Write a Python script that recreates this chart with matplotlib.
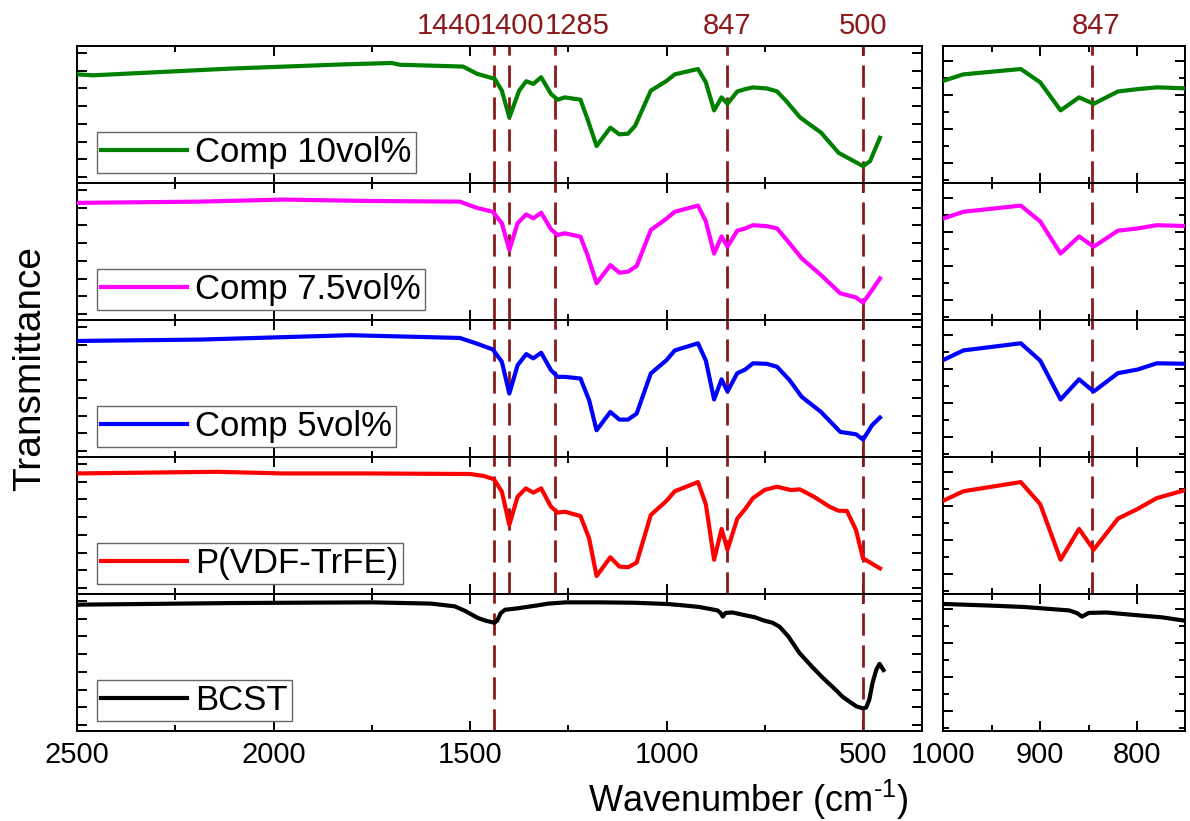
import matplotlib.pyplot as plt
import numpy as np
from matplotlib.ticker import FixedLocator

plt.rcParams['font.family'] = ['Liberation Sans', 'DejaVu Sans']
plt.rcParams['mathtext.fontset'] = 'custom'
plt.rcParams['mathtext.rm'] = 'Liberation Sans'

# FTIR spectra (wavenumber in cm-1, transmittance in arbitrary units, each panel 0..1)
wn_comp10 = [2500, 2460, 2110, 1820, 1700, 1678, 1518, 1482, 1437, 1419, 1400, 1375, 1357, 1339,
             1319, 1294, 1277, 1259, 1219, 1201, 1178, 1143, 1120, 1098, 1080, 1040, 1000, 979,
             920, 900, 879, 860, 845, 820, 800, 780, 745, 719, 696, 660, 607, 562, 500, 482, 457]
t_comp10 = [0.793, 0.786, 0.835, 0.866, 0.876, 0.863, 0.850, 0.797, 0.760, 0.674, 0.478, 0.674,
            0.743, 0.723, 0.772, 0.650, 0.608, 0.625, 0.608, 0.466, 0.270, 0.404, 0.355, 0.360,
            0.417, 0.674, 0.745, 0.793, 0.832, 0.735, 0.530, 0.625, 0.578, 0.668, 0.685, 0.698,
            0.690, 0.669, 0.600, 0.478, 0.368, 0.220, 0.123, 0.160, 0.330]

wn_comp75 = [2500, 2187, 1976, 1763, 1526, 1482, 1442, 1419, 1400, 1379, 1357, 1339, 1319, 1294,
             1277, 1259, 1219, 1201, 1178, 1143, 1120, 1098, 1076, 1040, 1000, 979, 920, 900,
             879, 860, 845, 820, 800, 780, 745, 719, 687, 656, 607, 558, 518, 500, 477, 457]
t_comp75 = [0.855, 0.864, 0.879, 0.869, 0.864, 0.818, 0.790, 0.706, 0.511, 0.706, 0.771, 0.742,
            0.783, 0.662, 0.620, 0.633, 0.608, 0.474, 0.268, 0.401, 0.345, 0.353, 0.394, 0.657,
            0.740, 0.790, 0.835, 0.720, 0.485, 0.610, 0.535, 0.652, 0.668, 0.692, 0.685, 0.669,
            0.560, 0.450, 0.328, 0.195, 0.165, 0.127, 0.219, 0.304]

wn_comp5 = [2500, 2187, 1805, 1526, 1482, 1442, 1419, 1400, 1379, 1357, 1339, 1319, 1294, 1277,
            1259, 1219, 1197, 1178, 1143, 1120, 1098, 1076, 1040, 1000, 979, 920, 900, 879, 860,
            845, 820, 800, 780, 745, 719, 687, 656, 607, 558, 518, 500, 477, 457]
t_comp5 = [0.847, 0.857, 0.889, 0.869, 0.827, 0.785, 0.695, 0.463, 0.670, 0.751, 0.720, 0.761,
           0.634, 0.585, 0.585, 0.573, 0.415, 0.195, 0.329, 0.273, 0.273, 0.317, 0.610, 0.707,
           0.778, 0.830, 0.704, 0.420, 0.567, 0.478, 0.612, 0.638, 0.684, 0.680, 0.659, 0.561,
           0.439, 0.329, 0.183, 0.166, 0.127, 0.232, 0.288]

wn_pvdf = [2500, 2145, 1976, 1763, 1500, 1464, 1439, 1419, 1400, 1379, 1358, 1339, 1319, 1294,
           1277, 1259, 1219, 1197, 1178, 1143, 1120, 1098, 1076, 1040, 1000, 979, 920, 900, 879,
           860, 845, 820, 800, 780, 750, 719, 684, 661, 625, 585, 563, 541, 518, 500, 457]
t_pvdf = [0.880, 0.892, 0.880, 0.880, 0.876, 0.861, 0.837, 0.747, 0.504, 0.710, 0.771, 0.740,
          0.771, 0.637, 0.594, 0.601, 0.569, 0.406, 0.131, 0.268, 0.200, 0.195, 0.229, 0.577,
          0.680, 0.750, 0.817, 0.656, 0.250, 0.475, 0.323, 0.550, 0.620, 0.700, 0.760, 0.783,
          0.759, 0.764, 0.710, 0.637, 0.608, 0.606, 0.467, 0.260, 0.187]

wn_bcst = [2500, 2300, 2100, 1900, 1750, 1600, 1539, 1515, 1499, 1480, 1460, 1445, 1438, 1431,
           1422, 1411, 1380, 1333, 1300, 1257, 1170, 1080, 998, 950, 916, 870, 862, 857, 850,
           832, 800, 775, 751, 730, 712, 690, 662, 630, 603, 575, 552, 530, 517, 500, 492, 484,
           476, 466, 458, 448]
t_bcst = [0.922, 0.928, 0.934, 0.937, 0.939, 0.930, 0.910, 0.880, 0.855, 0.825, 0.805, 0.795,
          0.790, 0.805, 0.860, 0.885, 0.895, 0.915, 0.930, 0.939, 0.939, 0.936, 0.927, 0.915,
          0.905, 0.880, 0.860, 0.835, 0.862, 0.865, 0.845, 0.830, 0.805, 0.790, 0.760, 0.690,
          0.570, 0.470, 0.390, 0.315, 0.250, 0.205, 0.180, 0.165, 0.172, 0.230, 0.350, 0.450,
          0.490, 0.445]

labels = ['Comp 10vol%', 'Comp 7.5vol%', 'Comp 5vol%', 'P(VDF-TrFE)', 'BCST']
colors = ['#008000', '#ff00ff', '#0000ff', '#ff0000', '#000000']
spectra = [(wn_comp10, t_comp10), (wn_comp75, t_comp75), (wn_comp5, t_comp5),
           (wn_pvdf, t_pvdf), (wn_bcst, t_bcst)]

# band positions marked with dashed lines
bands = [1440, 1400, 1285, 847, 500]
bands_bcst = [1440, 500]
band_color = '#8b1a1a'

W, H = 1190, 821
fig = plt.figure(figsize=(W / 100, H / 100), dpi=100)


def add_panel(x0, x1, top, bottom):
    return fig.add_axes([x0 / W, 1 - bottom / H, (x1 - x0) / W, (bottom - top) / H])


def style_axes(ax, major_x, minor_x, major_y, minor_y, bottom_row):
    ax.set_ylim(0, 1)
    ax.xaxis.set_major_locator(FixedLocator(major_x))
    ax.xaxis.set_minor_locator(FixedLocator(minor_x))
    ax.yaxis.set_major_locator(FixedLocator(major_y))
    ax.yaxis.set_minor_locator(FixedLocator(minor_y))
    ax.tick_params(which='both', direction='in', top=True, right=True, width=1.4,
                   labelleft=False, labelbottom=bottom_row, labelsize=21, pad=7)
    ax.tick_params(which='major', length=7)
    ax.tick_params(which='minor', length=4.5)
    for s in ax.spines.values():
        s.set_linewidth(1.4)


yticks_left = [0.044 + 0.1292 * k for k in range(8)]
yticks_right_major = [0.146 + 0.248 * k for k in range(4)]
yticks_right_minor = [0.022 + 0.248 * k for k in range(4)]

row_h = 137
axes_left = []
axes_right = []
for i, (label, color, (wn, t)) in enumerate(zip(labels, colors, spectra)):
    top = 46 + i * row_h
    last = i == len(labels) - 1
    axL = add_panel(77, 922, top, top + row_h)
    axR = add_panel(943, 1185, top, top + row_h)

    axL.plot(wn, t, color=color, lw=3, label=label, zorder=3)
    axR.plot(wn, t, color=color, lw=3, zorder=3)
    axL.set_xlim(2500, 350)
    axR.set_xlim(1000, 751)

    for b in (bands_bcst if last else bands):
        axL.axvline(b, color=band_color, lw=2, ls=(0, (8, 3.5)), zorder=2)
    if not last:
        axR.axvline(847, color=band_color, lw=2, ls=(0, (8, 3.5)), zorder=2)

    style_axes(axL, [2500, 2000, 1500, 1000, 500], [2250, 1750, 1250, 750],
               yticks_left, [], last)
    style_axes(axR, [1000, 900, 800], [950, 850], yticks_right_major,
               yticks_right_minor, last)

    leg = axL.legend(loc='lower left', bbox_to_anchor=(0.024, 0.07), borderaxespad=0,
                     fontsize=25, frameon=True, fancybox=False, framealpha=1,
                     edgecolor='#666666', handlelength=2.45, handletextpad=0.25,
                     borderpad=0.12)
    leg.get_frame().set_linewidth(1.0)
    axes_left.append(axL)
    axes_right.append(axR)

# band labels above the top panels
label_shift = {1440: -32, 1400: 2, 1285: 16.5, 847: 0, 500: 0}
for b in bands:
    axes_left[0].annotate(str(b), xy=(b, 1), xycoords=('data', 'axes fraction'),
                          xytext=(label_shift[b], 9), textcoords='offset points',
                          ha='center', va='baseline', fontsize=21, color=band_color)
axes_right[0].annotate('847', xy=(847, 1), xycoords=('data', 'axes fraction'),
                       xytext=(3, 9), textcoords='offset points',
                       ha='center', va='baseline', fontsize=21, color=band_color)

fig.text(30 / W, 1 - 368 / H, 'Transmittance', rotation=90, ha='center', va='center',
         fontsize=28)
fig.text(748 / W, 1 - 800 / H, r'Wavenumber (cm$^{\text{-1}}$)', ha='center',
         va='center', fontsize=26)

fig.savefig('out.png', dpi=100)
